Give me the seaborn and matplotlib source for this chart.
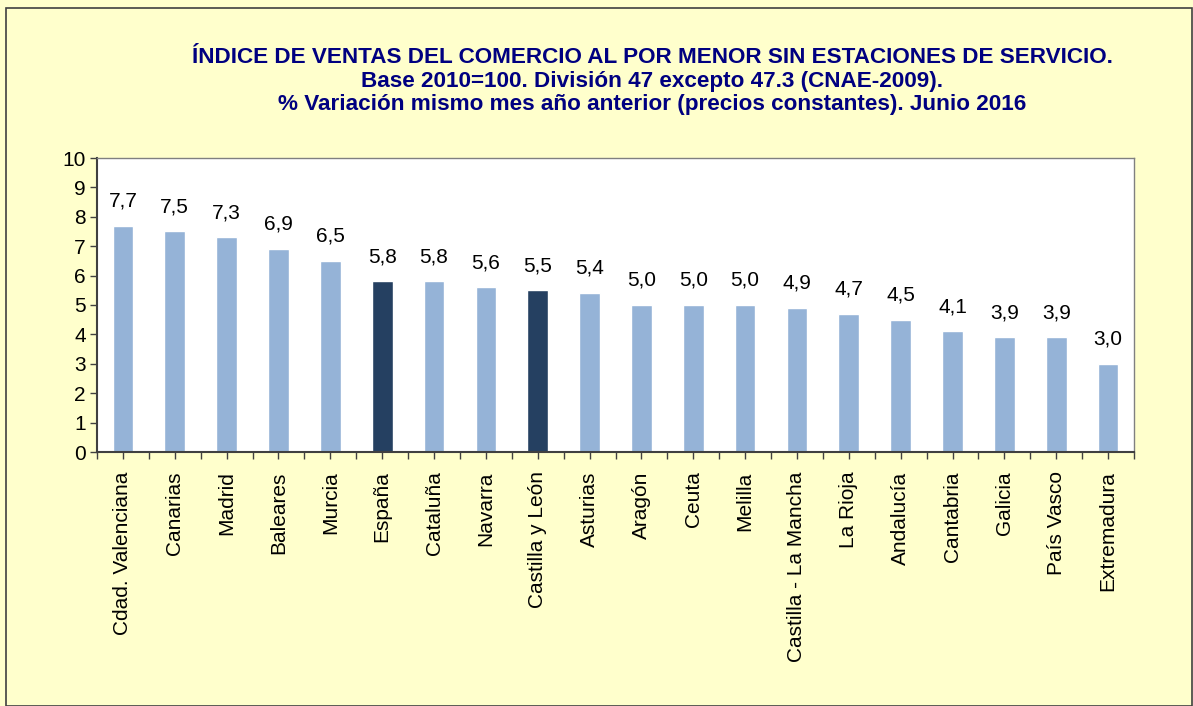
import matplotlib
matplotlib.use("Agg")
import matplotlib.pyplot as plt
from matplotlib.patches import Rectangle
from matplotlib.ticker import MultipleLocator
import seaborn as sns
from pandas import DataFrame

regiones = [
    "Cdad. Valenciana", "Canarias", "Madrid", "Baleares", "Murcia", "España",
    "Cataluña", "Navarra", "Castilla y León", "Asturias", "Aragón", "Ceuta",
    "Melilla", "Castilla - La Mancha", "La Rioja", "Andalucía", "Cantabria",
    "Galicia", "País Vasco", "Extremadura",
]
variacion = [7.7, 7.5, 7.3, 6.9, 6.5, 5.8, 5.8, 5.6, 5.5, 5.4, 5.0, 5.0,
             5.0, 4.9, 4.7, 4.5, 4.1, 3.9, 3.9, 3.0]
destacadas = ["España", "Castilla y León"]

BG = "#FFFFCC"
LIGHT = "#95B3D7"
DARK = "#254061"
TITLE_COLOR = "#000080"

sns.set_theme(style="white")
plt.rcParams['font.family'] = ['Liberation Sans', 'DejaVu Sans']

df = DataFrame({'region': regiones, 'valor': variacion})
df['grupo'] = ['dest' if r in destacadas else 'resto' for r in df['region']]

fig = plt.figure(figsize=(11.93, 7.06), dpi=100, facecolor=BG)
ax = fig.add_axes([97 / 1193, 1 - 452 / 706, (1134 - 97) / 1193, (452 - 158) / 706])
ax.set_facecolor("white")

sns.barplot(data=df, x='region', y='valor', hue='grupo',
            palette={'dest': DARK, 'resto': LIGHT}, dodge=False,
            width=0.4, legend=False, ax=ax, saturation=1)

for cont in ax.containers:
    ax.bar_label(cont, labels=[f"{v:.1f}".replace('.', ',') for v in cont.datavalues],
                 padding=11, fontsize=15, color='black')

ax.set_ylim(0, 10)
ax.set_xlim(-0.5, len(regiones) - 0.5)
ax.yaxis.set_major_locator(MultipleLocator(1))
ax.set_xlabel("")
ax.set_ylabel("")
ax.tick_params(axis='y', labelsize=15, length=5, width=1, color='#404040',
               left=True, pad=3, labelcolor='black')
ax.set_xticks(range(len(regiones)))
ax.set_xticklabels(regiones, rotation=90, fontsize=15, color='black')
ax.set_xticks([i - 0.5 for i in range(len(regiones) + 1)], minor=True)
ax.tick_params(axis='x', which='both', bottom=True, length=5, width=1,
               color='#404040', pad=9)

for side in ['left', 'bottom']:
    ax.spines[side].set_color('#404040')
    ax.spines[side].set_linewidth(1.5)
for side in ['top', 'right']:
    ax.spines[side].set_color('#808080')
    ax.spines[side].set_linewidth(1.0)

fig.text(652 / 1193, 1 - 81 / 706,
         "ÍNDICE DE VENTAS DEL COMERCIO AL POR MENOR SIN ESTACIONES DE SERVICIO.\n"
         "Base 2010=100. División 47 excepto 47.3 (CNAE-2009).\n"
         "% Variación mismo mes año anterior (precios constantes). Junio 2016",
         ha='center', va='center', fontsize=16.2, fontweight='bold',
         color=TITLE_COLOR, linespacing=1.17)

fig.patches.append(Rectangle((6 / 1193, 0), 1 - 7 / 1193, 1 - 8 / 706,
                             transform=fig.transFigure, fill=False,
                             edgecolor='#404040', linewidth=1.2))

fig.savefig("out.png", dpi=100, facecolor=BG)
